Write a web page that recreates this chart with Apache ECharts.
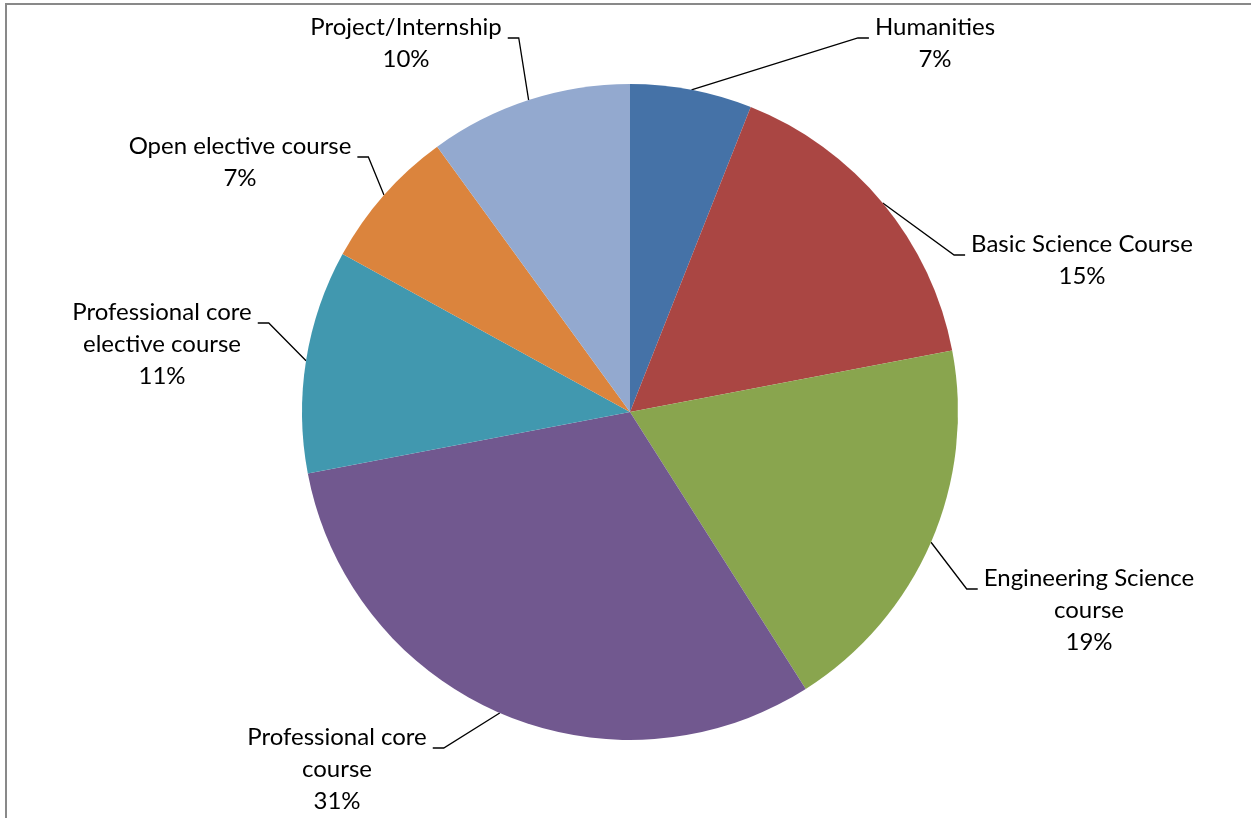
<!DOCTYPE html>
<html>
<head>
<meta charset="utf-8">
<script src="https://cdn.jsdelivr.net/npm/echarts@6/dist/echarts.min.js"></script>
<style>
  html, body { margin: 0; padding: 0; background: #fff; }
  #chart { position: absolute; left: 0; top: 0; width: 1251px; height: 818px; }
  #frame { position: absolute; left: 5px; top: 3px; width: 1400px; height: 1000px;
           border-left: 2px solid #898989; border-top: 2px solid #898989; pointer-events: none; }
</style>
</head>
<body>
<div id="chart"></div>
<div id="frame"></div>
<script>
// ---- data (clockwise from 12 o'clock) ----
const categories = [
  'Humanities',
  'Basic Science Course',
  'Engineering Science\ncourse',
  'Professional core\ncourse',
  'Professional core\nelective course',
  'Open elective course',
  'Project/Internship'
];
// slice sizes (percent)
const sliceValues = [6, 16, 19, 31, 11, 7, 10];
// percentages printed in the data labels
const labelPercents = [7, 15, 19, 31, 11, 7, 10];
const colors = ['#4572A7', '#AA4643', '#89A54E', '#71588F', '#4198AF', '#DB843D', '#93A9CF'];

// ---- label placement (layout only): [centre x, first-line centre y] ----
const labelPlacement = [
  [935, 27], [1082, 244], [1089, 578], [337, 737], [162, 312], [240, 146], [406, 27]
];

const chart = echarts.init(document.getElementById('chart'), null, { renderer: 'canvas' });

const LINE_H = 32;

const option = {
  animation: false,
  color: colors,
  series: [{
    type: 'pie',
    center: [630, 412],
    radius: 328,
    startAngle: 90,
    clockwise: true,
    avoidLabelOverlap: false,
    data: categories.map((c, i) => ({ name: c, value: sliceValues[i] })),
    itemStyle: { borderWidth: 0 },
    label: {
      show: true,
      position: 'outside',
      fontFamily: 'Lato',
      fontSize: 24,
      lineHeight: LINE_H,
      color: '#000',
      align: 'center',
      formatter: p => p.name + '\n' + labelPercents[p.dataIndex] + '%'
    },
    labelLine: {
      show: true,
      length: 20,
      length2: 10,
      lineStyle: { color: '#000', width: 1.3 }
    },
    labelLayout: function (params) {
      const i = params.dataIndex;
      const pl = labelPlacement[i];
      const w = params.labelRect.width;
      const top = pl[1] - LINE_H / 2;
      const anchor = params.labelLinePoints ? params.labelLinePoints[0] : [0, 0];
      const attachY = pl[1] + 11;
      let end, elbow;
      if (pl[0] > anchor[0]) {
        end = [pl[0] - w / 2 - 6, attachY];
        elbow = [end[0] - 11, attachY];
      } else {
        end = [pl[0] + w / 2 + 6, attachY];
        elbow = [end[0] + 11, attachY];
      }
      return {
        x: pl[0],
        y: top,
        align: 'center',
        verticalAlign: 'top',
        labelLinePoints: [anchor, elbow, end]
      };
    }
  }]
};
chart.setOption(option);
</script>
</body>
</html>
